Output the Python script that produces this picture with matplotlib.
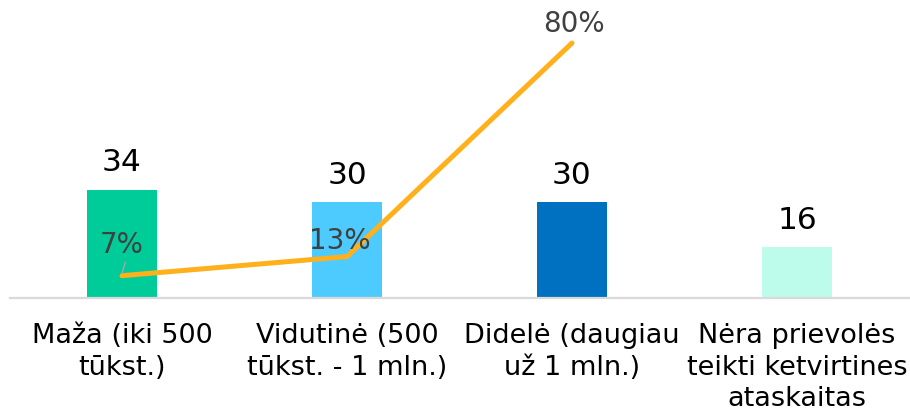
import matplotlib.pyplot as plt

categories = ['Maža (iki 500\ntūkst.)', 'Vidutinė (500\ntūkst. - 1 mln.)',
              'Didelė (daugiau\nuž 1 mln.)', 'Nėra prievolės\nteikti ketvirtines\nataskaitas']
counts = [34, 30, 30, 16]
shares = [7, 13, 80]
bar_colors = ['#00CC99', '#4DCBFF', '#0070C0', '#BDFBEA']

plt.rcParams['font.family'] = ['DejaVu Sans']

fig = plt.figure(figsize=(9.1, 4.11), dpi=100)
ax = fig.add_axes([9.5 / 910, 113 / 411, 900 / 910, 298 / 411])
x = list(range(len(categories)))

ax.bar(x, counts, width=0.31, color=bar_colors)
for xi, v in zip(x, counts):
    ax.text(xi, v + 5.8, str(v), ha='center', va='baseline', fontsize=22.5, color='black')

ax.set_xlim(-0.5, 3.5)
ax.set_ylim(0, 93.5)
ax.set_yticks([])
for s in ['top', 'right', 'left']:
    ax.spines[s].set_visible(False)
ax.spines['bottom'].set_color('#D9D9D9')
ax.spines['bottom'].set_linewidth(1.6)
ax.set_xticks(x)
ax.set_xticklabels(categories, fontsize=19.5, linespacing=1.28)
ax.tick_params(axis='x', length=0, pad=18)

ax2 = ax.twinx()
ax2.set_ylim(0, 93.5)
ax2.axis('off')
ax2.plot(x[:3], shares, color='#FFB01A', lw=3.6, solid_capstyle='round', clip_on=False)

# percent labels
offsets = [(0, 9.5), (-0.03, 5), (0.01, 6)]
for xi, v, (dx, dy) in zip(x, shares, offsets):
    ax2.text(xi + dx, v + dy, f'{v}%', ha='center', va='center', fontsize=20, color='#404040')
ax2.plot([0, 0.015], [shares[0] + 0.8, shares[0] + 4.2], color='#A6A6A6', lw=1)

fig.savefig('out.png', dpi=100)
